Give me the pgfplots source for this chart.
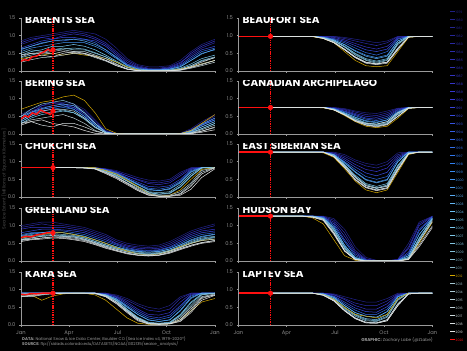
\documentclass[border=0pt]{standalone}
\usepackage{fontspec}
\setmainfont{Poppins}
\usepackage{pgfplots}
\usepackage{pgfplotstable}
\pgfplotsset{compat=1.18}

\definecolor{axgray}{HTML}{9A9A9A}
\definecolor{tickgray}{HTML}{8C8C8C}
\definecolor{credgray}{HTML}{9A9A9A}
\definecolor{Y79}{HTML}{202082}
\definecolor{Y90}{HTML}{3A3AD8}
\definecolor{Y98}{HTML}{3080F0}
\definecolor{Y05}{HTML}{78CCF4}
\definecolor{Y11}{HTML}{8CBCCC}
\definecolor{Y19}{HTML}{E4E4E4}
\definecolor{yellowyr}{HTML}{D4A800}
\definecolor{red2020}{HTML}{FF1010}

\foreach \y in {1979,...,1990}{\pgfmathtruncatemacro\p{(\y-1979)*100/11}\xglobal\colorlet{yr\y}{Y90!\p!Y79}}
\foreach \y in {1991,...,1998}{\pgfmathtruncatemacro\p{(\y-1990)*100/8}\xglobal\colorlet{yr\y}{Y98!\p!Y90}}
\foreach \y in {1999,...,2005}{\pgfmathtruncatemacro\p{(\y-1998)*100/7}\xglobal\colorlet{yr\y}{Y05!\p!Y98}}
\foreach \y in {2006,...,2011}{\pgfmathtruncatemacro\p{(\y-2005)*100/6}\xglobal\colorlet{yr\y}{Y11!\p!Y05}}
\foreach \y in {2013,...,2019}{\pgfmathtruncatemacro\p{(\y-2011)*100/8}\xglobal\colorlet{yr\y}{Y19!\p!Y11}}
\xglobal\colorlet{yr2012}{yellowyr}
\xglobal\colorlet{yr2020}{red2020}

\newcommand\ticksize{\fontsize{5.2}{6}\selectfont}

\pgfplotsset{
 panel/.style={
  scale only axis, width=194pt, height=53pt, anchor=south west,
  xmin=1, xmax=365, ymin=0, ymax=1.5,
  axis lines=left, axis line style={-, draw=axgray, line width=0.9pt},
  xtick={1,91,182,274,365}, xticklabels={},
  ytick={0,0.5,1,1.5}, yticklabels={0.0,0.5,1.0,1.5},
  tick style={draw=axgray, line width=0.6pt}, major tick length=2pt, tick align=outside,
  ticklabel style={font=\ticksize, text=tickgray},
  every axis plot/.append style={line width=0.5pt},
 },
 bottomrow/.style={xticklabels={Jan,Apr,Jul,Oct,Jan}},
}

\newcommand\yearlines[1]{%
 \addplot[yr1980] table[x=d,y=y80]{#1};
 \addplot[yr1984] table[x=d,y=y84]{#1};
 \addplot[yr1988] table[x=d,y=y88]{#1};
 \addplot[yr1992] table[x=d,y=y92]{#1};
 \addplot[yr1996] table[x=d,y=y96]{#1};
 \addplot[yr2000] table[x=d,y=y00]{#1};
 \addplot[yr2002] table[x=d,y=y02]{#1};
 \addplot[yr2005] table[x=d,y=y05]{#1};
 \addplot[yr2007] table[x=d,y=y07]{#1};
 \addplot[yr2009] table[x=d,y=y09]{#1};
 \addplot[yr2012] table[x=d,y=y12]{#1};
 \addplot[yr2015] table[x=d,y=y15]{#1};
 \addplot[yr2016] table[x=d,y=y16]{#1};
 \addplot[yr2018] table[x=d,y=y18]{#1};
 \addplot[yr2019] table[x=d,y=y19]{#1};
}
\newcommand\redstuff[2]{%
 \addplot[red2020, dash pattern=on 1.4pt off 0.9pt, line width=1.1pt] coordinates {(61,0) (61,1.5)};
 \addplot[red2020, line width=1.4pt] coordinates {#1};
 \addplot[red2020, only marks, mark=*, mark size=2.3pt] coordinates {(61,#2)};
}
\newcommand\ptitle[1]{\node[anchor=west, text=white, font=\fontsize{10.5}{11}\selectfont\bfseries, inner sep=0pt, xshift=4pt, yshift=-1.5pt] at (rel axis cs:0,1) {#1};}

\pgfplotstableread{
d y80 y84 y88 y92 y96 y00 y05 y09 y12 y15 y18 y02 y07 y16 y19
1 0.85 0.75 0.80 0.65 0.60 0.55 0.45 0.50 0.35 0.40 0.30 0.62 0.38 0.25 0.45
20 0.95 0.85 0.90 0.75 0.70 0.65 0.55 0.60 0.40 0.50 0.40 0.70 0.45 0.32 0.50
40 1.00 0.95 0.95 0.85 0.80 0.70 0.60 0.55 0.45 0.50 0.45 0.78 0.52 0.38 0.52
60 1.05 1.00 0.90 0.90 0.85 0.75 0.70 0.60 0.50 0.55 0.40 0.85 0.60 0.40 0.48
80 1.10 1.05 1.00 0.95 0.85 0.80 0.70 0.65 0.45 0.60 0.50 0.88 0.62 0.45 0.55
100 1.15 1.10 1.05 0.95 0.90 0.80 0.75 0.60 0.50 0.55 0.55 0.90 0.65 0.50 0.52
120 1.10 1.05 1.00 0.90 0.90 0.80 0.70 0.60 0.45 0.55 0.50 0.85 0.62 0.48 0.50
140 1.05 0.95 0.90 0.85 0.80 0.70 0.60 0.50 0.42 0.45 0.40 0.75 0.52 0.38 0.42
160 0.90 0.80 0.75 0.70 0.60 0.55 0.45 0.40 0.35 0.35 0.30 0.60 0.40 0.28 0.30
180 0.65 0.55 0.50 0.45 0.40 0.35 0.28 0.25 0.25 0.20 0.15 0.38 0.25 0.15 0.18
200 0.35 0.30 0.25 0.20 0.18 0.15 0.12 0.10 0.12 0.06 0.05 0.16 0.10 0.05 0.06
220 0.18 0.15 0.12 0.10 0.08 0.06 0.04 0.03 0.03 0.01 0.01 0.06 0.03 0.01 0.01
240 0.12 0.08 0.06 0.05 0.04 0.03 0.02 0.01 0.00 0.00 0.00 0.03 0.01 0.00 0.00
260 0.12 0.08 0.05 0.05 0.04 0.03 0.02 0.01 0.00 0.00 0.00 0.03 0.01 0.00 0.00
280 0.15 0.12 0.10 0.08 0.06 0.05 0.03 0.02 0.01 0.01 0.00 0.05 0.02 0.00 0.01
300 0.30 0.25 0.22 0.18 0.15 0.12 0.08 0.06 0.05 0.04 0.03 0.12 0.06 0.02 0.03
320 0.55 0.45 0.50 0.40 0.35 0.30 0.20 0.15 0.12 0.10 0.10 0.30 0.15 0.08 0.12
340 0.75 0.65 0.70 0.60 0.55 0.50 0.35 0.30 0.20 0.20 0.18 0.48 0.28 0.15 0.25
365 0.90 0.80 0.85 0.70 0.65 0.60 0.45 0.40 0.30 0.30 0.30 0.62 0.38 0.25 0.38
}\tBarents

\pgfplotstableread{
d y80 y84 y88 y92 y96 y00 y05 y09 y12 y15 y18 y02 y07 y16 y19
1 0.55 0.50 0.45 0.40 0.35 0.45 0.30 0.50 0.70 0.40 0.30 0.50 0.35 0.30 0.25
20 0.70 0.65 0.60 0.55 0.50 0.60 0.45 0.70 0.80 0.55 0.35 0.62 0.50 0.40 0.35
40 0.80 0.75 0.80 0.70 0.65 0.70 0.55 0.85 0.90 0.65 0.25 0.72 0.60 0.45 0.40
60 0.85 0.80 0.90 0.75 0.70 0.75 0.60 0.90 0.95 0.70 0.20 0.80 0.62 0.50 0.30
80 0.90 0.85 0.85 0.80 0.75 0.80 0.65 0.95 1.05 0.70 0.30 0.85 0.68 0.55 0.25
100 0.85 0.80 0.75 0.75 0.70 0.70 0.60 0.85 1.10 0.65 0.30 0.80 0.60 0.45 0.20
120 0.70 0.65 0.60 0.55 0.50 0.50 0.45 0.60 0.95 0.45 0.20 0.60 0.42 0.30 0.10
140 0.40 0.35 0.30 0.30 0.25 0.25 0.20 0.30 0.60 0.20 0.08 0.30 0.18 0.10 0.02
160 0.10 0.08 0.06 0.05 0.04 0.05 0.03 0.05 0.15 0.03 0.01 0.06 0.03 0.01 0
180 0.02 0.01 0 0 0 0 0 0 0.02 0 0 0 0 0 0
200 0 0 0 0 0 0 0 0 0 0 0 0 0 0 0
220 0 0 0 0 0 0 0 0 0 0 0 0 0 0 0
240 0 0 0 0 0 0 0 0 0 0 0 0 0 0 0
260 0 0 0 0 0 0 0 0 0 0 0 0 0 0 0
280 0 0 0 0 0 0 0 0 0 0 0 0 0 0 0
300 0.02 0.01 0.01 0.01 0.01 0.01 0 0.01 0.01 0 0 0.01 0 0 0
320 0.15 0.12 0.10 0.08 0.06 0.08 0.04 0.08 0.10 0.03 0.02 0.10 0.05 0.02 0.01
340 0.35 0.30 0.25 0.25 0.20 0.25 0.15 0.20 0.30 0.12 0.08 0.28 0.15 0.08 0.05
365 0.55 0.50 0.45 0.40 0.35 0.40 0.30 0.35 0.55 0.25 0.20 0.45 0.30 0.18 0.12
}\tBering

\pgfplotstableread{
d y80 y84 y88 y92 y96 y00 y05 y09 y12 y15 y18 y02 y07 y16 y19
1 0.83 0.83 0.83 0.83 0.83 0.83 0.83 0.83 0.83 0.83 0.83 0.83 0.83 0.83 0.83
20 0.83 0.83 0.83 0.83 0.83 0.83 0.83 0.83 0.83 0.83 0.83 0.83 0.83 0.83 0.83
40 0.83 0.83 0.83 0.83 0.83 0.83 0.83 0.83 0.83 0.83 0.83 0.83 0.83 0.83 0.83
60 0.83 0.83 0.83 0.83 0.83 0.83 0.83 0.83 0.83 0.83 0.83 0.83 0.83 0.83 0.83
80 0.83 0.83 0.83 0.83 0.83 0.83 0.83 0.83 0.83 0.83 0.83 0.83 0.83 0.83 0.83
100 0.83 0.83 0.83 0.83 0.83 0.83 0.83 0.83 0.83 0.83 0.83 0.83 0.83 0.83 0.83
120 0.83 0.83 0.83 0.83 0.83 0.83 0.83 0.83 0.83 0.83 0.82 0.83 0.83 0.82 0.82
140 0.83 0.83 0.83 0.83 0.82 0.82 0.81 0.82 0.83 0.80 0.80 0.82 0.81 0.80 0.79
160 0.80 0.78 0.79 0.78 0.76 0.75 0.72 0.74 0.75 0.70 0.68 0.76 0.73 0.70 0.66
180 0.75 0.70 0.72 0.70 0.68 0.65 0.60 0.62 0.65 0.58 0.55 0.66 0.62 0.56 0.52
200 0.65 0.60 0.60 0.55 0.52 0.50 0.45 0.45 0.48 0.40 0.38 0.52 0.46 0.40 0.35
220 0.55 0.50 0.48 0.42 0.38 0.35 0.28 0.30 0.30 0.25 0.20 0.36 0.30 0.22 0.18
240 0.48 0.42 0.38 0.30 0.25 0.20 0.12 0.15 0.10 0.10 0.06 0.22 0.14 0.08 0.05
260 0.45 0.40 0.35 0.28 0.22 0.18 0.08 0.12 0.02 0.05 0.02 0.18 0.08 0.03 0.02
280 0.50 0.45 0.40 0.32 0.28 0.22 0.12 0.15 0.05 0.05 0.02 0.24 0.10 0.03 0.02
300 0.70 0.65 0.60 0.50 0.45 0.40 0.30 0.35 0.20 0.15 0.08 0.42 0.28 0.10 0.05
320 0.83 0.82 0.80 0.78 0.75 0.70 0.60 0.65 0.50 0.40 0.30 0.72 0.58 0.35 0.22
340 0.83 0.83 0.83 0.83 0.83 0.83 0.82 0.83 0.78 0.75 0.65 0.83 0.82 0.70 0.55
365 0.83 0.83 0.83 0.83 0.83 0.83 0.83 0.83 0.83 0.83 0.83 0.83 0.83 0.83 0.80
}\tChukchi

\pgfplotstableread{
d y80 y84 y88 y92 y96 y00 y05 y09 y12 y15 y18 y02 y07 y16 y19
1 1.00 0.95 0.90 0.80 0.75 0.70 0.65 0.70 0.65 0.60 0.60 0.72 0.62 0.58 0.55
20 1.05 1.00 0.95 0.85 0.80 0.75 0.70 0.72 0.70 0.65 0.62 0.78 0.66 0.62 0.60
40 1.10 1.05 0.95 0.90 0.80 0.80 0.72 0.75 0.75 0.70 0.65 0.80 0.70 0.65 0.62
60 1.10 1.00 0.95 0.90 0.85 0.80 0.75 0.78 0.80 0.72 0.68 0.82 0.72 0.68 0.65
80 1.05 1.00 0.95 0.88 0.85 0.80 0.72 0.75 0.80 0.70 0.68 0.80 0.70 0.66 0.64
100 1.00 0.95 0.90 0.85 0.80 0.75 0.70 0.72 0.75 0.68 0.65 0.76 0.68 0.62 0.60
120 0.95 0.90 0.85 0.80 0.75 0.70 0.65 0.66 0.68 0.62 0.60 0.70 0.62 0.58 0.55
140 0.85 0.80 0.75 0.70 0.65 0.60 0.55 0.56 0.60 0.52 0.50 0.60 0.52 0.48 0.46
160 0.75 0.70 0.65 0.60 0.55 0.50 0.45 0.46 0.50 0.42 0.40 0.50 0.42 0.38 0.36
180 0.60 0.55 0.50 0.48 0.45 0.40 0.36 0.37 0.38 0.33 0.30 0.40 0.34 0.30 0.28
200 0.50 0.45 0.42 0.38 0.35 0.32 0.28 0.30 0.28 0.25 0.22 0.32 0.26 0.22 0.20
220 0.45 0.40 0.36 0.32 0.30 0.27 0.22 0.25 0.20 0.20 0.17 0.27 0.21 0.17 0.16
240 0.42 0.38 0.34 0.30 0.28 0.25 0.20 0.22 0.17 0.18 0.15 0.25 0.19 0.15 0.14
260 0.45 0.40 0.36 0.32 0.30 0.27 0.22 0.24 0.20 0.20 0.17 0.27 0.21 0.17 0.16
280 0.55 0.50 0.45 0.40 0.38 0.34 0.30 0.30 0.28 0.28 0.25 0.34 0.28 0.24 0.22
300 0.70 0.65 0.60 0.55 0.50 0.45 0.40 0.42 0.40 0.38 0.35 0.46 0.38 0.34 0.32
320 0.85 0.80 0.75 0.70 0.65 0.58 0.52 0.55 0.50 0.50 0.45 0.60 0.50 0.44 0.42
340 0.95 0.90 0.85 0.80 0.75 0.68 0.62 0.65 0.58 0.58 0.52 0.70 0.60 0.52 0.50
365 1.05 1.00 0.90 0.85 0.80 0.75 0.68 0.70 0.62 0.62 0.58 0.76 0.66 0.58 0.55
}\tGreenland

\pgfplotstableread{
d y80 y84 y88 y92 y96 y00 y05 y09 y12 y15 y18 y02 y07 y16 y19
1 0.90 0.90 0.90 0.90 0.90 0.90 0.90 0.90 0.85 0.82 0.80 0.90 0.90 0.80 0.85
20 0.90 0.90 0.90 0.90 0.90 0.90 0.90 0.90 0.85 0.80 0.85 0.90 0.88 0.82 0.84
40 0.90 0.90 0.90 0.90 0.90 0.90 0.90 0.90 0.70 0.85 0.88 0.90 0.90 0.86 0.88
60 0.90 0.90 0.90 0.90 0.90 0.90 0.90 0.90 0.82 0.88 0.90 0.90 0.90 0.90 0.90
80 0.90 0.90 0.90 0.90 0.90 0.90 0.90 0.90 0.88 0.90 0.90 0.90 0.90 0.90 0.90
100 0.90 0.90 0.90 0.90 0.90 0.90 0.90 0.90 0.90 0.90 0.90 0.90 0.90 0.90 0.90
120 0.90 0.90 0.90 0.90 0.90 0.90 0.90 0.90 0.90 0.90 0.90 0.90 0.90 0.90 0.90
140 0.90 0.90 0.90 0.90 0.90 0.90 0.90 0.90 0.85 0.88 0.90 0.90 0.90 0.90 0.90
160 0.90 0.90 0.88 0.88 0.86 0.85 0.84 0.85 0.70 0.80 0.82 0.86 0.84 0.82 0.80
180 0.85 0.82 0.80 0.78 0.75 0.72 0.70 0.70 0.45 0.62 0.65 0.74 0.68 0.64 0.60
200 0.75 0.70 0.65 0.60 0.55 0.50 0.45 0.42 0.20 0.38 0.40 0.52 0.44 0.38 0.35
220 0.60 0.55 0.45 0.40 0.35 0.30 0.22 0.20 0.05 0.15 0.18 0.30 0.20 0.15 0.12
240 0.50 0.42 0.30 0.25 0.20 0.15 0.08 0.06 0.02 0.03 0.05 0.14 0.06 0.04 0.03
260 0.45 0.38 0.28 0.20 0.15 0.10 0.05 0.04 0.02 0.02 0.03 0.10 0.04 0.02 0.02
280 0.55 0.45 0.35 0.28 0.22 0.15 0.08 0.06 0.03 0.04 0.04 0.14 0.06 0.03 0.03
300 0.80 0.75 0.65 0.55 0.50 0.40 0.30 0.25 0.15 0.20 0.15 0.42 0.28 0.12 0.10
320 0.90 0.90 0.88 0.85 0.82 0.75 0.65 0.55 0.40 0.50 0.45 0.78 0.62 0.40 0.35
340 0.90 0.90 0.90 0.90 0.90 0.90 0.88 0.85 0.65 0.80 0.78 0.90 0.86 0.75 0.70
365 0.90 0.90 0.90 0.90 0.90 0.90 0.90 0.90 0.75 0.88 0.85 0.90 0.90 0.86 0.84
}\tKara

\pgfplotstableread{
d y80 y84 y88 y92 y96 y00 y05 y09 y12 y15 y18 y02 y07 y16 y19
1 0.98 0.98 0.98 0.98 0.98 0.98 0.98 0.98 0.98 0.98 0.98 0.98 0.98 0.98 0.98
20 0.98 0.98 0.98 0.98 0.98 0.98 0.98 0.98 0.98 0.98 0.98 0.98 0.98 0.98 0.98
40 0.98 0.98 0.98 0.98 0.98 0.98 0.98 0.98 0.98 0.98 0.98 0.98 0.98 0.98 0.98
60 0.98 0.98 0.98 0.98 0.98 0.98 0.98 0.98 0.98 0.98 0.98 0.98 0.98 0.98 0.98
80 0.98 0.98 0.98 0.98 0.98 0.98 0.98 0.98 0.98 0.98 0.98 0.98 0.98 0.98 0.98
100 0.98 0.98 0.98 0.98 0.98 0.98 0.98 0.98 0.98 0.98 0.98 0.98 0.98 0.98 0.98
120 0.98 0.98 0.98 0.98 0.98 0.98 0.98 0.98 0.98 0.98 0.98 0.98 0.98 0.98 0.98
140 0.98 0.98 0.98 0.98 0.98 0.98 0.98 0.98 0.97 0.98 0.98 0.98 0.98 0.98 0.98
160 0.98 0.98 0.97 0.96 0.96 0.95 0.94 0.94 0.92 0.93 0.92 0.95 0.94 0.93 0.92
180 0.98 0.97 0.95 0.92 0.90 0.88 0.86 0.85 0.80 0.82 0.80 0.88 0.85 0.82 0.80
200 0.95 0.92 0.88 0.84 0.80 0.75 0.70 0.68 0.55 0.62 0.60 0.74 0.68 0.62 0.60
220 0.90 0.85 0.78 0.72 0.65 0.58 0.50 0.45 0.30 0.40 0.38 0.56 0.48 0.40 0.38
240 0.85 0.78 0.68 0.60 0.52 0.45 0.35 0.30 0.15 0.25 0.22 0.42 0.32 0.25 0.24
260 0.80 0.72 0.62 0.55 0.45 0.38 0.28 0.22 0.12 0.20 0.18 0.35 0.25 0.20 0.20
280 0.85 0.80 0.70 0.62 0.55 0.45 0.35 0.30 0.15 0.25 0.22 0.42 0.32 0.25 0.25
300 0.98 0.97 0.95 0.92 0.90 0.85 0.80 0.75 0.55 0.65 0.60 0.85 0.78 0.65 0.62
320 0.98 0.98 0.98 0.98 0.98 0.98 0.98 0.98 0.95 0.97 0.96 0.98 0.98 0.96 0.96
340 0.98 0.98 0.98 0.98 0.98 0.98 0.98 0.98 0.98 0.98 0.98 0.98 0.98 0.98 0.98
365 0.98 0.98 0.98 0.98 0.98 0.98 0.98 0.98 0.98 0.98 0.98 0.98 0.98 0.98 0.98
}\tBeaufort

\pgfplotstableread{
d y80 y84 y88 y92 y96 y00 y05 y09 y12 y15 y18 y02 y07 y16 y19
1 0.75 0.75 0.75 0.75 0.75 0.75 0.75 0.75 0.75 0.75 0.75 0.75 0.75 0.75 0.75
20 0.75 0.75 0.75 0.75 0.75 0.75 0.75 0.75 0.75 0.75 0.75 0.75 0.75 0.75 0.75
40 0.75 0.75 0.75 0.75 0.75 0.75 0.75 0.75 0.75 0.75 0.75 0.75 0.75 0.75 0.75
60 0.75 0.75 0.75 0.75 0.75 0.75 0.75 0.75 0.75 0.75 0.75 0.75 0.75 0.75 0.75
80 0.75 0.75 0.75 0.75 0.75 0.75 0.75 0.75 0.75 0.75 0.75 0.75 0.75 0.75 0.75
100 0.75 0.75 0.75 0.75 0.75 0.75 0.75 0.75 0.75 0.75 0.75 0.75 0.75 0.75 0.75
120 0.75 0.75 0.75 0.75 0.75 0.75 0.75 0.75 0.75 0.75 0.75 0.75 0.75 0.75 0.75
140 0.75 0.75 0.75 0.75 0.75 0.75 0.75 0.75 0.75 0.75 0.75 0.75 0.75 0.75 0.75
160 0.75 0.75 0.75 0.75 0.75 0.75 0.75 0.75 0.74 0.75 0.75 0.75 0.75 0.75 0.75
180 0.75 0.74 0.73 0.72 0.72 0.71 0.70 0.70 0.68 0.69 0.68 0.71 0.70 0.69 0.68
200 0.72 0.70 0.68 0.65 0.63 0.60 0.58 0.56 0.52 0.55 0.54 0.60 0.57 0.55 0.54
220 0.65 0.62 0.58 0.55 0.52 0.48 0.44 0.40 0.35 0.38 0.38 0.47 0.42 0.38 0.36
240 0.60 0.55 0.50 0.45 0.42 0.38 0.32 0.28 0.22 0.26 0.30 0.36 0.30 0.26 0.25
260 0.58 0.52 0.47 0.42 0.38 0.34 0.28 0.24 0.18 0.22 0.28 0.32 0.26 0.22 0.20
280 0.65 0.60 0.55 0.50 0.45 0.40 0.35 0.30 0.22 0.28 0.35 0.40 0.32 0.28 0.26
300 0.73 0.72 0.70 0.68 0.65 0.62 0.58 0.55 0.45 0.50 0.60 0.62 0.56 0.50 0.50
320 0.75 0.75 0.75 0.75 0.75 0.75 0.74 0.74 0.72 0.73 0.74 0.75 0.74 0.73 0.73
340 0.75 0.75 0.75 0.75 0.75 0.75 0.75 0.75 0.75 0.75 0.75 0.75 0.75 0.75 0.75
365 0.75 0.75 0.75 0.75 0.75 0.75 0.75 0.75 0.75 0.75 0.75 0.75 0.75 0.75 0.75
}\tCAA

\pgfplotstableread{
d y80 y84 y88 y92 y96 y00 y05 y09 y12 y15 y18 y02 y07 y16 y19
1 1.27 1.27 1.27 1.27 1.27 1.27 1.27 1.27 1.27 1.27 1.27 1.27 1.27 1.27 1.27
20 1.27 1.27 1.27 1.27 1.27 1.27 1.27 1.27 1.27 1.27 1.27 1.27 1.27 1.27 1.27
40 1.27 1.27 1.27 1.27 1.27 1.27 1.27 1.27 1.27 1.27 1.27 1.27 1.27 1.27 1.27
60 1.27 1.27 1.27 1.27 1.27 1.27 1.27 1.27 1.27 1.27 1.27 1.27 1.27 1.27 1.27
80 1.27 1.27 1.27 1.27 1.27 1.27 1.27 1.27 1.27 1.27 1.27 1.27 1.27 1.27 1.27
100 1.27 1.27 1.27 1.27 1.27 1.27 1.27 1.27 1.27 1.27 1.27 1.27 1.27 1.27 1.27
120 1.27 1.27 1.27 1.27 1.27 1.27 1.27 1.27 1.27 1.27 1.27 1.27 1.27 1.27 1.27
140 1.27 1.27 1.27 1.27 1.27 1.27 1.27 1.27 1.27 1.27 1.27 1.27 1.27 1.27 1.27
160 1.27 1.27 1.27 1.27 1.27 1.27 1.27 1.27 1.25 1.27 1.27 1.27 1.27 1.27 1.27
180 1.27 1.25 1.24 1.22 1.20 1.20 1.18 1.18 1.12 1.15 1.15 1.20 1.18 1.15 1.14
200 1.20 1.15 1.10 1.05 1.00 0.98 0.92 0.90 0.80 0.85 0.88 0.96 0.90 0.85 0.84
220 1.05 1.00 0.92 0.85 0.78 0.72 0.62 0.58 0.45 0.50 0.55 0.70 0.58 0.50 0.48
240 0.95 0.88 0.78 0.68 0.58 0.50 0.38 0.35 0.20 0.28 0.32 0.48 0.32 0.28 0.26
260 0.90 0.82 0.72 0.60 0.50 0.42 0.30 0.26 0.12 0.20 0.25 0.40 0.24 0.20 0.18
280 1.00 0.92 0.82 0.70 0.58 0.50 0.38 0.34 0.20 0.26 0.30 0.48 0.32 0.26 0.24
300 1.25 1.20 1.15 1.10 1.05 1.00 0.90 0.85 0.70 0.78 0.80 1.00 0.88 0.78 0.75
320 1.27 1.27 1.27 1.27 1.27 1.27 1.25 1.24 1.20 1.22 1.23 1.27 1.24 1.22 1.22
340 1.27 1.27 1.27 1.27 1.27 1.27 1.27 1.27 1.27 1.27 1.27 1.27 1.27 1.27 1.27
365 1.27 1.27 1.27 1.27 1.27 1.27 1.27 1.27 1.27 1.27 1.27 1.27 1.27 1.27 1.27
}\tESS

\pgfplotstableread{
d y80 y84 y88 y92 y96 y00 y05 y09 y12 y15 y18 y02 y07 y16 y19
1 1.27 1.27 1.27 1.27 1.27 1.27 1.27 1.27 1.27 1.27 1.27 1.27 1.27 1.27 1.27
20 1.27 1.27 1.27 1.27 1.27 1.27 1.27 1.27 1.27 1.27 1.27 1.27 1.27 1.27 1.27
40 1.27 1.27 1.27 1.27 1.27 1.27 1.27 1.27 1.27 1.27 1.27 1.27 1.27 1.27 1.27
60 1.27 1.27 1.27 1.27 1.27 1.27 1.27 1.27 1.27 1.27 1.27 1.27 1.27 1.27 1.27
80 1.27 1.27 1.27 1.27 1.27 1.27 1.27 1.27 1.27 1.27 1.27 1.27 1.27 1.27 1.27
100 1.27 1.27 1.27 1.27 1.27 1.27 1.27 1.27 1.27 1.27 1.27 1.27 1.27 1.27 1.27
120 1.27 1.27 1.27 1.27 1.27 1.27 1.27 1.27 1.27 1.27 1.27 1.27 1.27 1.27 1.27
140 1.27 1.27 1.27 1.27 1.27 1.27 1.26 1.27 1.22 1.25 1.24 1.27 1.26 1.25 1.24
160 1.27 1.26 1.25 1.25 1.24 1.22 1.20 1.20 1.05 1.18 1.15 1.22 1.20 1.18 1.16
180 1.20 1.15 1.10 1.05 1.00 0.95 0.90 0.85 0.60 0.80 0.75 0.95 0.88 0.80 0.78
200 0.90 0.80 0.70 0.60 0.55 0.45 0.40 0.35 0.15 0.30 0.28 0.45 0.38 0.30 0.28
220 0.40 0.30 0.25 0.20 0.15 0.10 0.08 0.06 0.02 0.05 0.04 0.10 0.07 0.05 0.04
240 0.10 0.06 0.04 0.03 0.02 0.01 0 0 0 0 0 0.01 0 0 0
260 0.02 0.01 0 0 0 0 0 0 0 0 0 0 0 0 0
280 0.01 0 0 0 0 0 0 0 0 0 0 0 0 0 0
300 0.05 0.04 0.03 0.02 0.02 0.01 0.01 0 0 0 0 0.01 0 0 0
320 0.50 0.40 0.35 0.25 0.20 0.15 0.10 0.08 0.05 0.06 0.05 0.15 0.10 0.06 0.04
340 1.10 1.05 1.00 0.90 0.85 0.75 0.65 0.60 0.50 0.55 0.45 0.75 0.62 0.55 0.40
365 1.27 1.27 1.26 1.25 1.25 1.22 1.20 1.20 1.10 1.15 1.00 1.22 1.18 1.12 0.95
}\tHudson

\pgfplotstableread{
d y80 y84 y88 y92 y96 y00 y05 y09 y12 y15 y18 y02 y07 y16 y19
1 0.90 0.90 0.90 0.90 0.90 0.90 0.90 0.90 0.90 0.90 0.90 0.90 0.90 0.90 0.90
20 0.90 0.90 0.90 0.90 0.90 0.90 0.90 0.90 0.90 0.90 0.90 0.90 0.90 0.90 0.90
40 0.90 0.90 0.90 0.90 0.90 0.90 0.90 0.90 0.90 0.90 0.90 0.90 0.90 0.90 0.90
60 0.90 0.90 0.90 0.90 0.90 0.90 0.90 0.90 0.90 0.90 0.90 0.90 0.90 0.90 0.90
80 0.90 0.90 0.90 0.90 0.90 0.90 0.90 0.90 0.90 0.90 0.90 0.90 0.90 0.90 0.90
100 0.90 0.90 0.90 0.90 0.90 0.90 0.90 0.90 0.90 0.90 0.90 0.90 0.90 0.90 0.90
120 0.90 0.90 0.90 0.90 0.90 0.90 0.90 0.90 0.90 0.90 0.90 0.90 0.90 0.90 0.90
140 0.90 0.90 0.90 0.90 0.90 0.90 0.90 0.90 0.90 0.90 0.90 0.90 0.90 0.90 0.90
160 0.90 0.90 0.90 0.89 0.88 0.88 0.87 0.86 0.86 0.85 0.84 0.88 0.87 0.85 0.84
180 0.88 0.86 0.85 0.82 0.80 0.78 0.75 0.72 0.72 0.70 0.68 0.78 0.74 0.70 0.68
200 0.80 0.75 0.72 0.65 0.60 0.55 0.50 0.45 0.50 0.42 0.40 0.55 0.48 0.42 0.40
220 0.72 0.62 0.55 0.48 0.42 0.35 0.30 0.25 0.30 0.20 0.18 0.35 0.28 0.20 0.18
240 0.65 0.55 0.45 0.38 0.30 0.25 0.18 0.12 0.25 0.08 0.06 0.25 0.15 0.08 0.06
260 0.65 0.55 0.45 0.36 0.30 0.22 0.15 0.10 0.20 0.06 0.05 0.22 0.12 0.06 0.05
280 0.75 0.68 0.60 0.52 0.45 0.38 0.30 0.22 0.30 0.15 0.12 0.38 0.25 0.15 0.12
300 0.90 0.88 0.86 0.84 0.82 0.80 0.75 0.70 0.75 0.60 0.55 0.80 0.72 0.60 0.55
320 0.90 0.90 0.90 0.90 0.90 0.90 0.90 0.90 0.90 0.88 0.88 0.90 0.90 0.88 0.88
340 0.90 0.90 0.90 0.90 0.90 0.90 0.90 0.90 0.90 0.90 0.90 0.90 0.90 0.90 0.90
365 0.90 0.90 0.90 0.90 0.90 0.90 0.90 0.90 0.90 0.90 0.90 0.90 0.90 0.90 0.90
}\tLaptev

\begin{document}
\begin{tikzpicture}[x=1pt,y=1pt]
\useasboundingbox (0,0) rectangle (467,351);
\fill[black] (0,0) rectangle (467,351);

% left column
\begin{axis}[panel, at={(21pt,280pt)}]
\yearlines{\tBarents}
\redstuff{(1,0.28)(8,0.32)(15,0.30)(22,0.40)(30,0.42)(38,0.50)(45,0.55)(52,0.62)(56,0.56)(61,0.60)}{0.60}
\ptitle{BARENTS SEA}
\end{axis}
\begin{axis}[panel, at={(21pt,217pt)}]
\yearlines{\tBering}
\redstuff{(1,0.42)(8,0.52)(15,0.48)(22,0.60)(30,0.55)(38,0.68)(45,0.62)(52,0.58)(56,0.55)(61,0.65)}{0.65}
\ptitle{BERING SEA}
\end{axis}
\begin{axis}[panel, at={(21pt,154pt)}]
\yearlines{\tChukchi}
\redstuff{(1,0.83)(61,0.83)}{0.83}
\ptitle{CHUKCHI SEA}
\end{axis}
\begin{axis}[panel, at={(21pt,90pt)}]
\yearlines{\tGreenland}
\redstuff{(1,0.66)(10,0.70)(20,0.68)(30,0.74)(40,0.76)(50,0.80)(61,0.80)}{0.80}
\ptitle{GREENLAND SEA}
\end{axis}
\begin{axis}[panel, bottomrow, at={(21pt,26pt)}]
\yearlines{\tKara}
\redstuff{(1,0.87)(10,0.86)(20,0.89)(30,0.88)(40,0.90)(61,0.90)}{0.90}
\ptitle{KARA SEA}
\end{axis}

% right column
\begin{axis}[panel, at={(238.5pt,280pt)}]
\yearlines{\tBeaufort}
\redstuff{(1,0.98)(61,0.98)}{0.98}
\ptitle{BEAUFORT SEA}
\end{axis}
\begin{axis}[panel, at={(238.5pt,217pt)}]
\yearlines{\tCAA}
\redstuff{(1,0.75)(61,0.75)}{0.75}
\ptitle{CANADIAN ARCHIPELAGO}
\end{axis}
\begin{axis}[panel, at={(238.5pt,154pt)}]
\yearlines{\tESS}
\redstuff{(1,1.27)(61,1.27)}{1.27}
\ptitle{EAST SIBERIAN SEA}
\end{axis}
\begin{axis}[panel, at={(238.5pt,90pt)}]
\yearlines{\tHudson}
\redstuff{(1,1.27)(61,1.27)}{1.27}
\ptitle{HUDSON BAY}
\end{axis}
\begin{axis}[panel, bottomrow, at={(238.5pt,26pt)}]
\yearlines{\tLaptev}
\redstuff{(1,0.90)(61,0.90)}{0.90}
\ptitle{LAPTEV SEA}
\end{axis}

% legend
\begin{axis}[at={(450pt,342pt)}, anchor=north west, scale only axis, width=5pt, height=5pt,
  hide axis, xmin=0, xmax=1, ymin=0, ymax=1,
  legend style={at={(0,1)}, anchor=north west, draw=none, fill=none, inner sep=0pt, outer sep=0pt,
    font=\fontsize{3.2}{3.5}\selectfont, row sep=2.6pt,
    nodes={inner sep=0.3pt, text height=3.8pt, text depth=1pt}},
  legend cell align=left,
  legend image code/.code={\draw[line width=0.9pt,#1] (0pt,0pt) -- (4.5pt,0pt);}]
\pgfplotsinvokeforeach{1979,...,2020}{\addlegendimage{yr#1}\addlegendentry{\textcolor{yr#1}{#1}}}
\end{axis}

\node[rotate=90, text=black!70!white, font=\fontsize{4.5}{5}\selectfont] at (4,172) {Sea Ice Extent [Millions of Square Kilometers]};
\node[anchor=west, inner sep=0pt, text=credgray, font=\fontsize{4}{4.5}\selectfont] at (22,12) {\textbf{DATA:} National Snow \& Ice Data Center, Boulder CO (Sea Ice Index v4, 1979-2020*)};
\node[anchor=west, inner sep=0pt, text=credgray, font=\fontsize{4}{4.5}\selectfont] at (22,6.5) {\textbf{SOURCE:} ftp://sidads.colorado.edu/DATASETS/NOAA/G02135/seaice\_analysis/};
\node[anchor=east, inner sep=0pt, text=credgray, font=\fontsize{4.2}{4.5}\selectfont] at (433,11) {\textbf{GRAPHIC:} Zachary Labe (@ZLabe)};
\end{tikzpicture}
\end{document}
